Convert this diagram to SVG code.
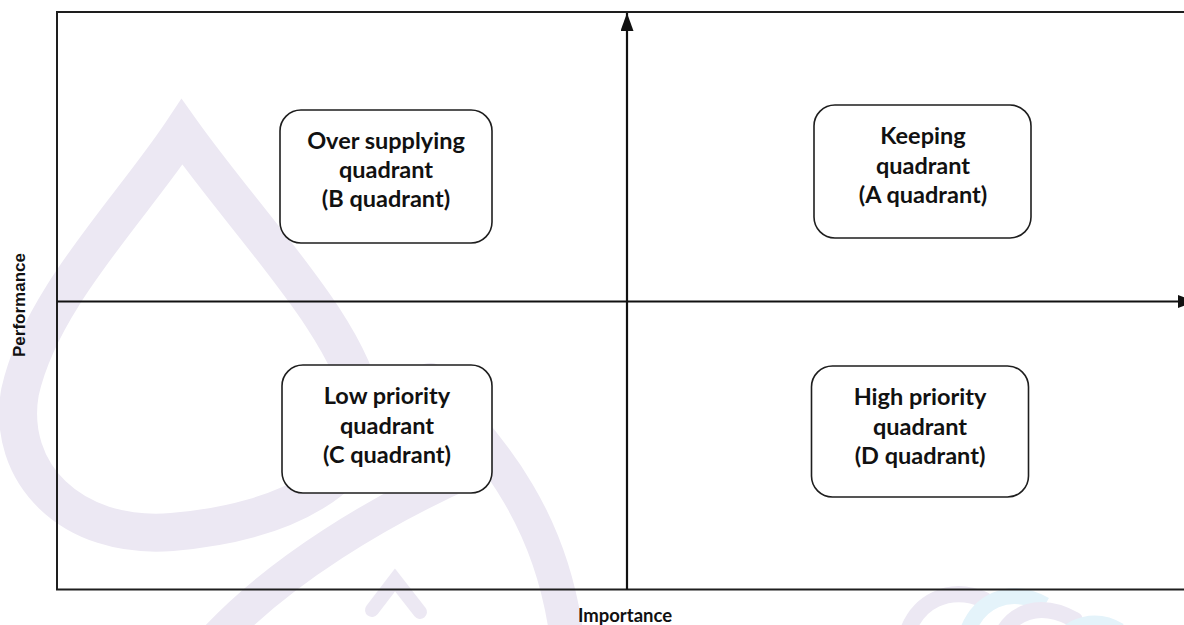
<svg xmlns="http://www.w3.org/2000/svg" width="1184" height="625" viewBox="0 0 1184 625">
  <style>
    .frame { fill: none; stroke: #1e1e1e; stroke-width: 2; }
    .axis { fill: none; stroke: #111; stroke-width: 2.2; }
    .box { fill: #fff; stroke: #1e1e1e; stroke-width: 1.6; }
    .label { font-family: Lato, "Liberation Sans", sans-serif; font-weight: 700; font-size: 23.5px; fill: #111; text-anchor: middle; }
    .axis-title { font-family: Lato, "Liberation Sans", sans-serif; font-weight: 700; font-size: 18.5px; fill: #111; text-anchor: middle; }
    .axis-title-y { font-family: "Liberation Sans", Arial, sans-serif; font-weight: 700; font-size: 17px; fill: #111; text-anchor: middle; }
    .wm { fill: none; stroke: #ece8f3; stroke-linecap: round; }
    .wm-blue { fill: none; stroke: #e4f3fa; }
  </style>
  <defs>
    <marker id="arrow" markerUnits="userSpaceOnUse" markerWidth="20" markerHeight="14" refX="18" refY="6.5" orient="auto">
      <path d="M0,0 L18,6.5 L0,13 Z" fill="#111"/>
    </marker>
  </defs>

  <rect width="1184" height="625" fill="#fff"/>

  <!-- faint background emblem -->
  <g id="emblem">
    <path class="wm" stroke-width="38" d="M182,132 C130,210 40,300 20,392 C6,472 70,540 172,532 C292,522 372,472 364,410 C352,330 252,230 182,132 Z"/>
    <path class="wm" stroke-width="34" d="M430,380 C480,440 545,500 565,625"/>
    <path class="wm" stroke-width="34" d="M215,640 C280,570 380,510 470,470"/>
    <path class="wm" stroke-width="14" d="M372,610 L395,580 L420,612"/>
    <path class="wm" stroke-width="16" d="M905,640 C915,600 950,585 985,600"/>
    <path class="wm-blue" stroke-width="16" d="M965,640 C975,600 1010,585 1045,605"/>
    <path class="wm" stroke-width="16" d="M1000,640 C1010,612 1040,600 1075,620"/>
    <path class="wm-blue" stroke-width="14" d="M1060,640 C1070,625 1095,615 1120,630"/>
  </g>

  <!-- outer frame, open to the right -->
  <g id="frame">
    <path class="frame" d="M1190,12 L57,12 L57,589.5 L1190,589.5"/>
  </g>

  <!-- axes -->
  <g id="connectors">
    <line id="axis-importance" class="axis" x1="57" y1="301.5" x2="1196" y2="301.5" marker-end="url(#arrow)"/>
    <line id="axis-performance" class="axis" x1="627" y1="589.5" x2="627" y2="13" marker-end="url(#arrow)"/>
  </g>

  <g id="quadrant-b">
    <rect class="box" x="280" y="110" width="212" height="133" rx="21"/>
    <text class="label" x="386" y="148.5">Over supplying</text>
    <text class="label" x="386" y="178">quadrant</text>
    <text class="label" x="386" y="207">(B quadrant)</text>
  </g>

  <g id="quadrant-a">
    <rect class="box" x="814" y="105" width="217" height="133" rx="21"/>
    <text class="label" x="923" y="144">Keeping</text>
    <text class="label" x="923" y="173.5">quadrant</text>
    <text class="label" x="923" y="202.5">(A quadrant)</text>
  </g>

  <g id="quadrant-c">
    <rect class="box" x="282" y="365" width="210" height="128" rx="21"/>
    <text class="label" x="387" y="403.5">Low priority</text>
    <text class="label" x="387" y="433.5">quadrant</text>
    <text class="label" x="387" y="463">(C quadrant)</text>
  </g>

  <g id="quadrant-d">
    <rect class="box" x="811.5" y="366" width="217" height="131" rx="21"/>
    <text class="label" x="920" y="404.5">High priority</text>
    <text class="label" x="920" y="434.5">quadrant</text>
    <text class="label" x="920" y="464">(D quadrant)</text>
  </g>

  <g id="axis-labels">
    <text class="axis-title" x="625" y="622">Importance</text>
    <text class="axis-title-y" transform="translate(25,305) rotate(-90)">Performance</text>
  </g>
</svg>
